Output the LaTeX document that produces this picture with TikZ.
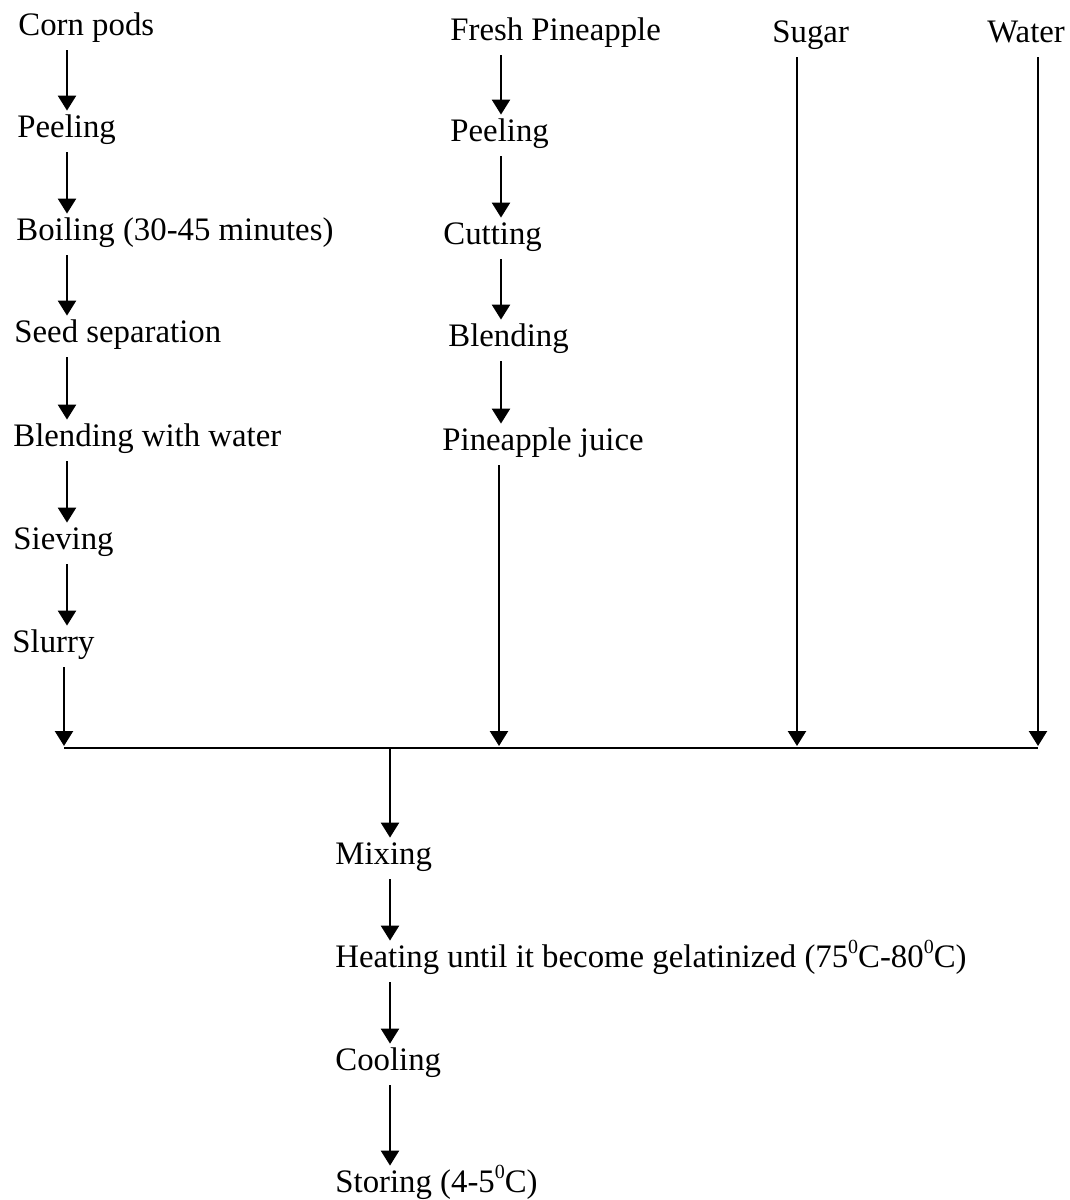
\documentclass[tikz,border=0pt]{standalone}
\usepackage{fontspec}
\setmainfont{Liberation Serif}
\usepackage{tikz}
\usetikzlibrary{arrows.meta, positioning, calc}

\newcommand{\supzero}{\raisebox{0.42em}{\fontsize{10}{10}\selectfont 0}}

\begin{document}
\begin{tikzpicture}[
    x=0.5pt, y=-0.5pt,
    stage/.style={anchor=base west, inner sep=5pt, text height=0.7em, text depth=0.25em, font=\fontsize{16.4}{20}\selectfont},
    arrow/.style={-{Triangle[length=7.5pt, width=9pt]}, line width=1.2pt, shorten >=1pt}
]
\useasboundingbox (0,0) rectangle (1070,1200);

% Corn column
\node[stage] (corn) at (8,35) {Corn pods};
\node[stage] (peelc) at (7,137) {Peeling};
\node[stage] (boil) at (6,240) {Boiling (30-45 minutes)};
\node[stage] (seed) at (4,342) {Seed separation};
\node[stage] (blendw) at (3,446) {Blending with water};
\node[stage] (sieve) at (3,549) {Sieving};
\node[stage] (slurry) at (2,652) {Slurry};

% Pineapple column
\node[stage] (fresh) at (440,40) {Fresh Pineapple};
\node[stage] (peelp) at (440,141) {Peeling};
\node[stage] (cut) at (433,244) {Cutting};
\node[stage] (blend) at (438,346) {Blending};
\node[stage] (juice) at (432,450) {Pineapple juice};

% Sugar and water
\node[stage] (sugar) at (762,42) {Sugar};
\node[stage] (water) at (977,42) {Water};

% Product line
\node[stage] (mix) at (325,864) {Mixing};
\node[stage] (heat) at (325,967) {Heating until it become gelatinized (75\supzero C-80\supzero C)};
\node[stage] (cool) at (325,1070) {Cooling};
\node[stage] (store) at (325,1192) {Storing (4-5\supzero C)};

% Arrow columns and junction line
\coordinate (cl) at (67,0);
\coordinate (cp) at (501,0);
\coordinate (cb) at (390,0);
\coordinate (jl) at (64,748);
\coordinate (jp) at (499,748);
\coordinate (js) at (797,748);
\coordinate (jw) at (1038,748);
\coordinate (jm) at (390,748);

\draw[line width=0.8pt] (jl) -- (jw);

% Arrows
\draw[arrow] (corn.south -| cl) -- (peelc.north -| cl);
\draw[arrow] (peelc.south -| cl) -- (boil.north -| cl);
\draw[arrow] (boil.south -| cl) -- (seed.north -| cl);
\draw[arrow] (seed.south -| cl) -- (blendw.north -| cl);
\draw[arrow] (blendw.south -| cl) -- (sieve.north -| cl);
\draw[arrow] (sieve.south -| cl) -- (slurry.north -| cl);
\draw[arrow] (slurry.south -| jl) -- (jl);
\draw[arrow] (fresh.south -| cp) -- (peelp.north -| cp);
\draw[arrow] (peelp.south -| cp) -- (cut.north -| cp);
\draw[arrow] (cut.south -| cp) -- (blend.north -| cp);
\draw[arrow] (blend.south -| cp) -- (juice.north -| cp);
\draw[arrow] (juice.south -| jp) -- (jp);
\draw[arrow] (sugar.south -| js) -- (js);
\draw[arrow] (water.south -| jw) -- (jw);
\draw[arrow] (jm) -- (mix.north -| cb);
\draw[arrow] (mix.south -| cb) -- (heat.north -| cb);
\draw[arrow] (heat.south -| cb) -- (cool.north -| cb);
\draw[arrow] (cool.south -| cb) -- (store.north -| cb);

\end{tikzpicture}
\end{document}
